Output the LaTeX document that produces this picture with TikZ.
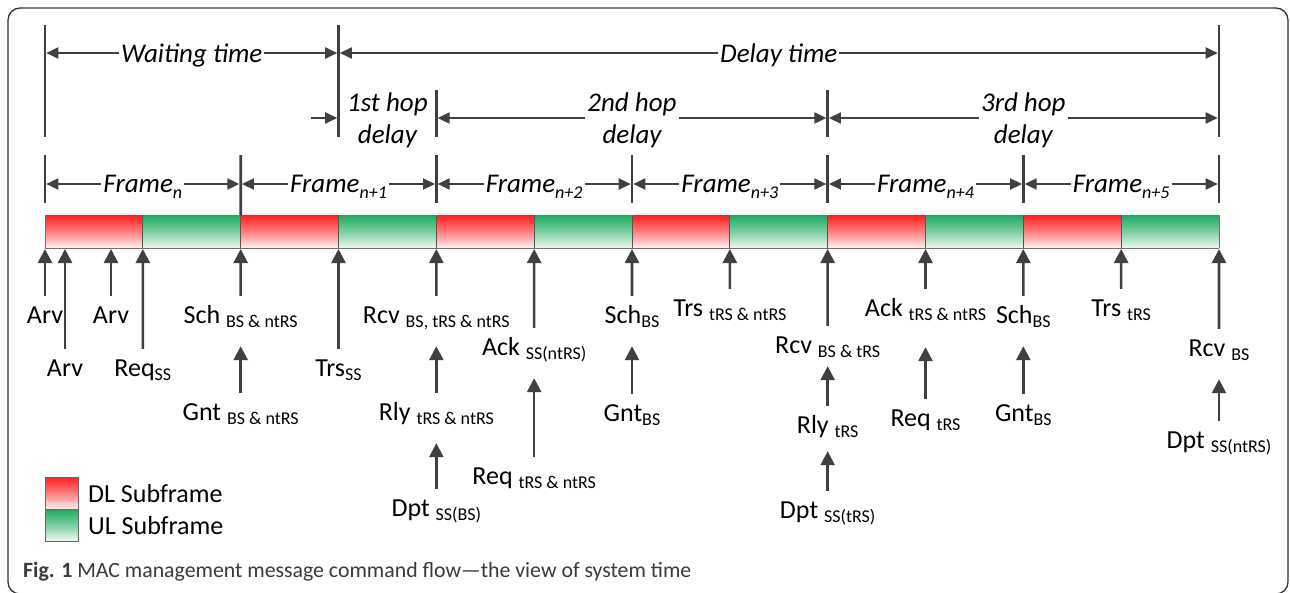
\documentclass[tikz,border=0pt]{standalone}
\usepackage{fontspec}
\setmainfont{Carlito}
\usetikzlibrary{arrows.meta}
\definecolor{ink}{HTML}{404040}
\definecolor{rimcol}{HTML}{333333}
\definecolor{dltop}{RGB}{255,30,30}
\definecolor{dlbot}{RGB}{255,242,242}
\definecolor{ultop}{RGB}{30,170,95}
\definecolor{ulbot}{RGB}{238,250,242}
\definecolor{captxt}{HTML}{3A3A3A}
\newcommand{\lowtext}[1]{{\fontsize{18}{18}\selectfont\raisebox{-4.5pt}{#1}}}
\newcommand{\framesub}[1]{{\fontsize{18}{18}\selectfont\raisebox{-6pt}{#1}}}
\begin{document}
\begin{tikzpicture}[x=1pt,y=-1pt,
  lbl/.style={font=\fontsize{26}{30}\selectfont, inner sep=0pt, text height=17pt, text depth=13pt, anchor=base},
  up/.style={draw=ink, line width=2.6pt, -{Triangle[length=14pt,width=14pt]}, shorten <=10pt},
  tick/.style={draw=ink, line width=2.8pt},
  dim/.style={draw=ink, line width=1.9pt, {Triangle[length=12pt,width=11pt]}-{Triangle[length=12pt,width=11pt]}, shorten <=1.3pt, shorten >=1.3pt},
  dimlbl/.style={fill=white, inner xsep=2pt, inner ysep=1pt, anchor=base, font=\fontsize{27}{32}\selectfont\itshape},
  hoplbl/.style={inner sep=0pt, anchor=base, font=\fontsize{27}{32}\selectfont\itshape},
  sep/.style={draw=ink!90, line width=1pt}
]
\useasboundingbox (0,0) rectangle (1290,592);
\fill[white] (0,0) rectangle (1290,592);
\draw[rimcol, line width=1.3pt, rounded corners=12pt] (8,8) rectangle (1288,594);

% ---- time marks on top
\coordinate (tA0) at (45,25);      \coordinate (tA1) at (45,137);
\coordinate (tB0) at (338.5,25);   \coordinate (tB1) at (338.5,137);
\coordinate (tC0) at (1219,25);    \coordinate (tC1) at (1219,137);
\coordinate (tD0) at (436.33,90);  \coordinate (tD1) at (436.33,137);
\coordinate (tE0) at (827.67,90);  \coordinate (tE1) at (827.67,137);
\foreach \p in {A,B,C,D,E} \draw[tick] (t\p0) -- (t\p1);

\coordinate (wL) at (45,53);  \coordinate (wR) at (338.5,53);  \coordinate (dR) at (1219,53);
\draw[dim] (wL) -- (wR) node[dimlbl, midway, yshift=-9pt] {Waiting time};
\draw[dim] (wR) -- (dR) node[dimlbl, midway, yshift=-9pt] {Delay time};

\coordinate (h1in) at (311,118);
\coordinate (h1L) at (338.5,118); \coordinate (h2L) at (436.33,118);
\coordinate (h3L) at (827.67,118); \coordinate (h3R) at (1219,118);
\draw[draw=ink, line width=1.9pt, -{Triangle[length=12pt,width=11pt]}, shorten >=1.3pt] (h1in) -- (h1L);
\draw[dim] (h2L) -- (h3L);
\draw[dim] (h3L) -- (h3R);
\node[hoplbl] (hop1a) at (387.4,111) {1st hop};
\node[hoplbl] (hop1b) at (387.4,143) {delay};
\node[hoplbl, fill=white, inner xsep=2pt, text depth=10pt] (hop2a) at (632,111) {2nd hop};
\node[hoplbl] (hop2b) at (632,143) {delay};
\node[hoplbl, fill=white, inner xsep=2pt, text depth=10pt] (hop3a) at (1023.33,111) {3rd hop};
\node[hoplbl] (hop3b) at (1023.33,143) {delay};

% ---- frame marks
\foreach \k in {0,...,6} {
  \coordinate (fa\k) at ({45+\k*195.6667},155);
  \coordinate (fm\k) at ({45+\k*195.6667},184);
}
\coordinate (fb0) at (45,203);
\coordinate (fb1) at (240.67,220);
\foreach \k in {2,...,6} \coordinate (fb\k) at ({45+\k*195.6667},203);
\foreach \k in {0,...,6} \draw[tick] (fa\k) -- (fb\k);
\draw[dim] (fm0) -- (fm1) node[dimlbl, midway, yshift=-8.5pt] {Frame\framesub{n}};
\foreach \k/\n in {1/1,2/2,3/3,4/4,5/5} {
  \pgfmathtruncatemacro{\kk}{\k+1}
  \draw[dim] (fm\k) -- (fm\kk) node[dimlbl, midway, yshift=-8.5pt] {Frame\framesub{n+\n}};
}

% ---- subframe bar
\foreach \k in {0,...,5} {
  \pgfmathsetmacro{\xa}{45+\k*195.6667}
  \pgfmathsetmacro{\xb}{\xa+97.8333}
  \pgfmathsetmacro{\xc}{\xa+195.6667}
  \shade[top color=dltop, bottom color=dlbot, middle color=dltop!55!dlbot] (\xa,215) rectangle (\xb,248);
  \shade[top color=ultop, bottom color=ulbot, middle color=ultop!55!ulbot] (\xb,215) rectangle (\xc,248);
}
\foreach \k in {1,...,11} \draw[sep] ({45+\k*97.8333},215) -- ({45+\k*97.8333},248);
\draw[draw=ink!75, line width=0.9pt] (45,248) -- (1219,248);
\draw[draw=ink!75, line width=0.9pt] (1219,215) -- (1219,248);
\draw[draw=ink!75, line width=0.9pt] (45,215) -- (45,248);

% ---- arrival points under the bar
\foreach \k in {0,...,12} \coordinate (b\k) at ({45+\k*97.8333},249);
\coordinate (a65) at (65,249);
\coordinate (a111) at (111,249);

% ---- message labels
\node[lbl] (arvA) at (45,323) {Arv};
\node[lbl] (arvB) at (65,376) {Arv};
\node[lbl] (arvC) at (111,323) {Arv};
\node[lbl] (reqA) at (142.83,376) {Req\lowtext{SS}};
\node[lbl] (schA) at (240.67,323) {Sch \lowtext{BS \& ntRS}};
\node[lbl] (gntA) at (240.67,420) {Gnt \lowtext{BS \& ntRS}};
\node[lbl] (trsA) at (338.5,376) {Trs\lowtext{SS}};
\node[lbl] (rcvA) at (436.33,323) {Rcv \lowtext{BS, tRS \& ntRS}};
\node[lbl] (rlyA) at (436.33,420) {Rly \lowtext{tRS \& ntRS}};
\node[lbl] (dptA) at (436.33,516) {Dpt \lowtext{SS(BS)}};
\node[lbl] (ackA) at (534.17,355) {Ack \lowtext{SS(ntRS)}};
\node[lbl] (reqB) at (534.17,484) {Req \lowtext{tRS \& ntRS}};
\node[lbl] (schB) at (632,323) {Sch\lowtext{BS}};
\node[lbl] (gntB) at (632,421) {Gnt\lowtext{BS}};
\node[lbl] (trsB) at (729.83,316) {Trs \lowtext{tRS \& ntRS}};
\node[lbl] (rcvB) at (827.67,353) {Rcv \lowtext{BS \& tRS}};
\node[lbl] (rlyB) at (827.67,433) {Rly \lowtext{tRS}};
\node[lbl] (dptB) at (827.67,518) {Dpt \lowtext{SS(tRS)}};
\node[lbl] (ackB) at (925.5,316) {Ack \lowtext{tRS \& ntRS}};
\node[lbl] (reqC) at (925.5,426) {Req \lowtext{tRS}};
\node[lbl] (schC) at (1023.33,323) {Sch\lowtext{BS}};
\node[lbl] (gntC) at (1023.33,421) {Gnt\lowtext{BS}};
\node[lbl] (trsC) at (1121.17,316) {Trs \lowtext{tRS}};
\node[lbl] (rcvC) at (1219,356) {Rcv \lowtext{BS}};
\node[lbl] (dptC) at (1219,448) {Dpt \lowtext{SS(ntRS)}};

% ---- arrows up to the bar
\draw[up] (arvA.north) -- (b0);
\draw[up] (arvB.north) -- (a65);
\draw[up] (arvC.north) -- (a111);
\draw[up] (reqA.north) -- (b1);
\draw[up] (schA.north) -- (b2);
\draw[up] (trsA.north) -- (b3);
\draw[up] (rcvA.north) -- (b4);
\draw[up] (ackA.north) -- (b5);
\draw[up] (schB.north) -- (b6);
\draw[up] (trsB.north) -- (b7);
\draw[up] (rcvB.north) -- (b8);
\draw[up] (ackB.north) -- (b9);
\draw[up] (schC.north) -- (b10);
\draw[up] (trsC.north) -- (b11);
\draw[up] (rcvC.north) -- (b12);

% ---- arrows between messages
\draw[up, shorten >=10pt] (gntA.north) -- (schA.south);
\draw[up, shorten >=10pt] (rlyA.north) -- (rcvA.south);
\draw[up, shorten >=10pt] (dptA.north) -- (rlyA.south);
\draw[up, shorten >=10pt] (reqB.north) -- (ackA.south);
\draw[up, shorten >=10pt] (gntB.north) -- (schB.south);
\draw[up, shorten >=0pt]  (rlyB.north) -- (rcvB.south);
\draw[up, shorten >=5pt]  (dptB.north) -- (rlyB.south);
\draw[up, shorten >=18pt] (reqC.north) -- (ackB.south);
\draw[up, shorten >=10pt] (gntC.north) -- (schC.south);
\draw[up, shorten >=10pt] (dptC.north) -- (rcvC.south);

% ---- legend
\shade[top color=dltop, bottom color=dlbot, middle color=dltop!55!dlbot] (45,477) rectangle (78,509);
\shade[top color=ultop, bottom color=ulbot, middle color=ultop!55!ulbot] (45,509) rectangle (78,541);
\draw[draw=ink!80, line width=0.9pt] (45,477) rectangle (78,541);
\draw[draw=ink!80, line width=0.9pt] (45,509) -- (78,509);
\node[anchor=base west, inner sep=0pt, font=\fontsize{26}{30}\selectfont] (dl) at (88,502) {DL Subframe};
\node[anchor=base west, inner sep=0pt, font=\fontsize{26}{30}\selectfont] (ul) at (88,534) {UL Subframe};

% ---- caption
\node[anchor=base west, inner sep=0pt, text=captxt, font=\fontsize{21.8}{24}\selectfont] (cap) at (23,577)
  {{\bfseries Fig. 1} MAC management message command flow—the view of system time};
\end{tikzpicture}
\end{document}
